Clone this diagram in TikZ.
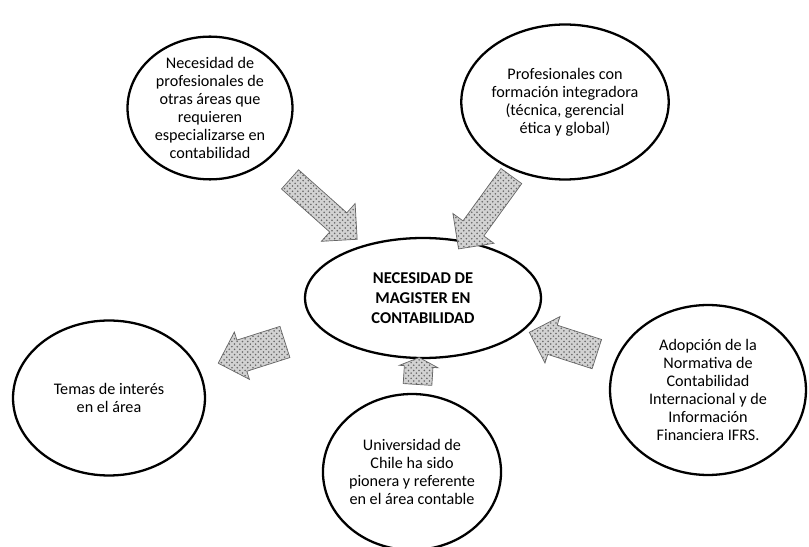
\documentclass[tikz,border=0pt]{standalone}
\usepackage{fontspec}
\setmainfont{Carlito}
\usepackage{tikz}
\usetikzlibrary{shapes.geometric,shapes.arrows,patterns}

\begin{document}
\begin{tikzpicture}[x=0.02cm, y=-0.02cm]
	\path [use as bounding box] (0,0) rectangle (809,547);
	\tikzstyle{burbuja} = [ellipse, draw, line width=1.3pt, inner sep=0pt, align=center, font=\fontsize{9.2}{10.2}\selectfont]
	\tikzstyle{flecha} = [single arrow, sloped, allow upside down, draw=black!60, thin, preaction={fill=gray!35}, pattern=crosshatch dots, pattern color=black!60, inner xsep=0pt, minimum width=0pt, single arrow head indent=0pt]
	\node[burbuja, minimum width=3.3cm, minimum height=2.8cm] (nec) at (210,108) {Necesidad de\\profesionales de\\otras áreas que\\requieren\\especializarse en\\contabilidad};
	\node[burbuja, minimum width=3.4cm, minimum height=3.1cm] (pro) at (565,102) {Profesionales con\\formación integradora\\(técnica, gerencial\\ética y global)};
	\node[burbuja, minimum width=4.72cm, minimum height=2.4cm, font=\fontsize{9.4}{11.2}\selectfont\bfseries] (mag) at (423,298) {NECESIDAD DE\\MAGISTER EN\\CONTABILIDAD};
	\node[burbuja, minimum width=3.84cm, minimum height=3.1cm] (tem) at (109,398) {Temas de interés\\en el área};
	\node[burbuja, minimum width=3.3cm, minimum height=3.12cm] (uni) at (412,472) {Universidad de\\Chile ha sido\\pionera y referente\\en el área contable};
	\node[burbuja, minimum width=3.92cm, minimum height=3.4cm] (ado) at (708,390) {Adopción de la\\Normativa de\\Contabilidad\\Internacional y de\\Información\\Financiera IFRS.};
	% flechas
	\path (nec) -- (mag) node[flecha, pos=.53, minimum height=1.8cm, inner ysep=.25cm, single arrow head extend=.25cm] (f1) {};
	\path (pro) -- (mag) node[flecha, pos=.52, minimum height=1.8cm, inner ysep=.25cm, single arrow head extend=.25cm] (f2) {};
	\path (mag) -- (tem) node[flecha, pos=.51, minimum height=1.4cm, inner ysep=.32cm, single arrow head extend=.17cm] (f3) {};
	\path (ado) -- (mag) node[flecha, pos=.49, minimum height=1.42cm, inner ysep=.3cm, single arrow head extend=.18cm] (f4) {};
	\path (uni) -- (mag) node[flecha, pos=.55, minimum height=.54cm, inner ysep=.28cm, single arrow head extend=.1cm, single arrow tip angle=130] (f5) {};
\end{tikzpicture}
\end{document}
